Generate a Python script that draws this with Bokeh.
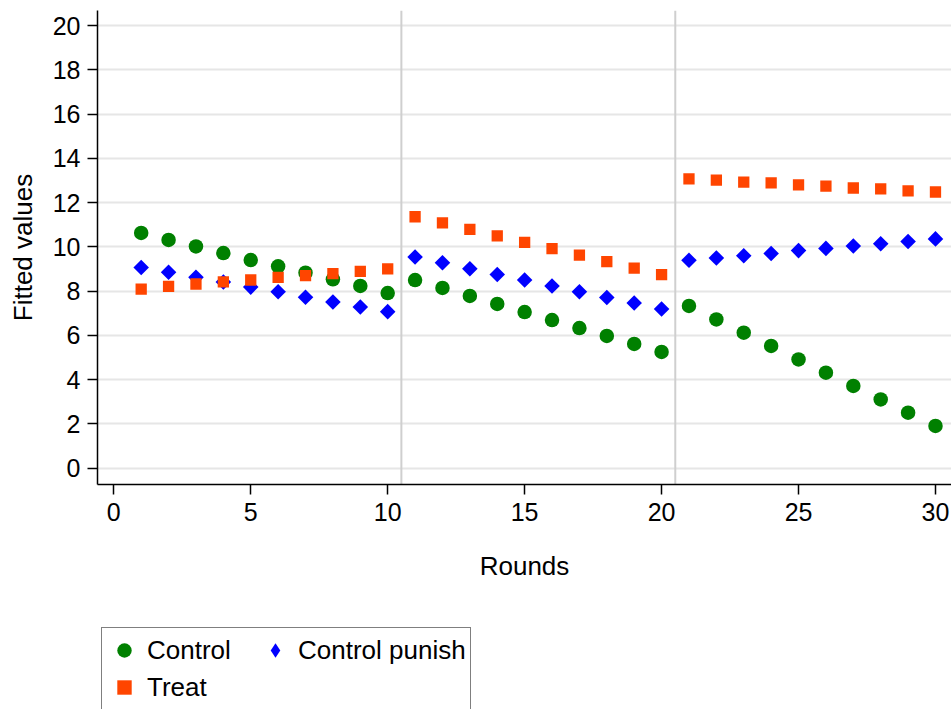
import math
from bokeh.plotting import figure
from bokeh.layouts import column
from bokeh.models import (Range1d, FixedTicker, Span, Legend, LegendItem,
                          ColumnDataSource)
from bokeh.embed import file_html
from bokeh.resources import INLINE

rounds = [1, 2, 3, 4, 5, 6, 7, 8, 9, 10,
          11, 12, 13, 14, 15, 16, 17, 18, 19, 20,
          21, 22, 23, 24, 25, 26, 27, 28, 29, 30]
control = [10.63, 10.31, 10.02, 9.72, 9.40, 9.12, 8.83, 8.53, 8.23, 7.91,
           8.50, 8.14, 7.78, 7.42, 7.05, 6.69, 6.33, 5.97, 5.61, 5.25,
           7.33, 6.72, 6.12, 5.52, 4.91, 4.31, 3.71, 3.10, 2.50, 1.90]
control_punish = [9.07, 8.85, 8.62, 8.41, 8.18, 7.97, 7.72, 7.51, 7.28, 7.07,
                  9.54, 9.28, 9.01, 8.75, 8.50, 8.23, 7.97, 7.71, 7.46, 7.19,
                  9.39, 9.50, 9.60, 9.70, 9.83, 9.93, 10.04, 10.14, 10.24, 10.36]
treat = [8.09, 8.21, 8.32, 8.42, 8.50, 8.62, 8.70, 8.79, 8.89, 9.00,
         11.36, 11.08, 10.79, 10.50, 10.20, 9.92, 9.63, 9.33, 9.04, 8.74,
         13.07, 13.02, 12.93, 12.89, 12.80, 12.75, 12.66, 12.62, 12.53, 12.48]

y_ticks = [0, 2, 4, 6, 8, 10, 12, 14, 16, 18, 20]
x_ticks = [0, 5, 10, 15, 20, 25, 30]
phase_breaks = [10.5, 20.5]
series_names = ["Control", "Control punish", "Treat"]

FONT = "Liberation Sans"
GREEN, BLUE, ORANGE = "#008000", "#0000ff", "#ff4500"

p = figure(width=951, height=615, output_backend="svg", toolbar_location=None,
           x_range=Range1d(-0.595, 30.585), y_range=Range1d(-0.746, 20.687),
           min_border_left=97, min_border_right=0, min_border_top=10,
           min_border_bottom=131)
p.outline_line_color = None
p.background_fill_color = "white"
p.border_fill_color = "white"

src = ColumnDataSource(dict(r=rounds, c=control, cp=control_punish, t=treat))

for loc in phase_breaks:
    p.add_layout(Span(location=loc, dimension="height", line_color="#cfcfcf",
                      line_width=2, level="underlay"))

p.scatter("r", "c", source=src, marker="circle", size=14.5,
          fill_color=GREEN, line_color=None)
p.scatter("r", "cp", source=src, marker="square", angle=math.pi / 4,
          size=11.0, fill_color=BLUE, line_color=None)
p.scatter("r", "t", source=src, marker="square", size=11.3,
          fill_color=ORANGE, line_color=None)

p.xgrid.visible = False
p.ygrid.ticker = FixedTicker(ticks=y_ticks)
p.ygrid.grid_line_color = "#e6e6e6"
p.ygrid.grid_line_width = 2

p.xaxis.ticker = FixedTicker(ticks=x_ticks)
p.yaxis.ticker = FixedTicker(ticks=y_ticks)
p.xaxis.axis_label = "Rounds"
p.yaxis.axis_label = "Fitted values"

for ax in (p.xaxis[0], p.yaxis[0]):
    ax.axis_line_color = "black"
    ax.axis_line_width = 1.5
    ax.major_tick_line_color = "black"
    ax.major_tick_line_width = 1.5
    ax.major_tick_out = 10
    ax.major_tick_in = 0
    ax.minor_tick_line_color = None
    ax.major_label_text_font = FONT
    ax.major_label_text_font_size = "25px"
    ax.major_label_text_color = "black"
    ax.axis_label_text_font = FONT
    ax.axis_label_text_font_size = "26px"
    ax.axis_label_text_font_style = "normal"
    ax.axis_label_text_color = "black"

p.xaxis.major_label_standoff = 8
p.yaxis.major_label_standoff = 7
p.xaxis.axis_label_standoff = 27
p.yaxis.axis_label_standoff = 12

# legend strip below the chart (keys only; their single point is NaN, so nothing is plotted)
pl = figure(width=951, height=94, output_backend="svg", toolbar_location=None,
            x_range=Range1d(0, 1), y_range=Range1d(0, 1),
            x_axis_location=None, y_axis_location=None, min_border=0)
pl.outline_line_color = None
pl.xgrid.visible = False
pl.ygrid.visible = False
pl.background_fill_color = "white"
pl.border_fill_color = "white"

nan = float("nan")
keysrc = ColumnDataSource(dict(x=[nan], y=[nan]))
kg = pl.scatter("x", "y", source=keysrc, marker="circle",
                fill_color=GREEN, line_color=None)
kb = pl.scatter("x", "y", source=keysrc, marker="diamond",
                fill_color=BLUE, line_color=None)
ko = pl.scatter("x", "y", source=keysrc, marker="square",
                fill_color=ORANGE, line_color=None)

legend = Legend(items=[LegendItem(label=series_names[0], renderers=[kg]),
                       LegendItem(label=series_names[1], renderers=[kb]),
                       LegendItem(label=series_names[2], renderers=[ko])],
                orientation="horizontal", ncols=2, location=(4, -1),
                glyph_width=36, glyph_height=36, label_standoff=5, spacing=1,
                padding=4, label_width=109, margin=0,
                border_line_color="black", border_line_width=1.3,
                background_fill_color="white", background_fill_alpha=1,
                label_text_font=FONT, label_text_font_size="26px",
                label_text_color="black")
pl.add_layout(legend, "center")

open("out.html", "w").write(file_html(column(p, pl, spacing=0), INLINE))
